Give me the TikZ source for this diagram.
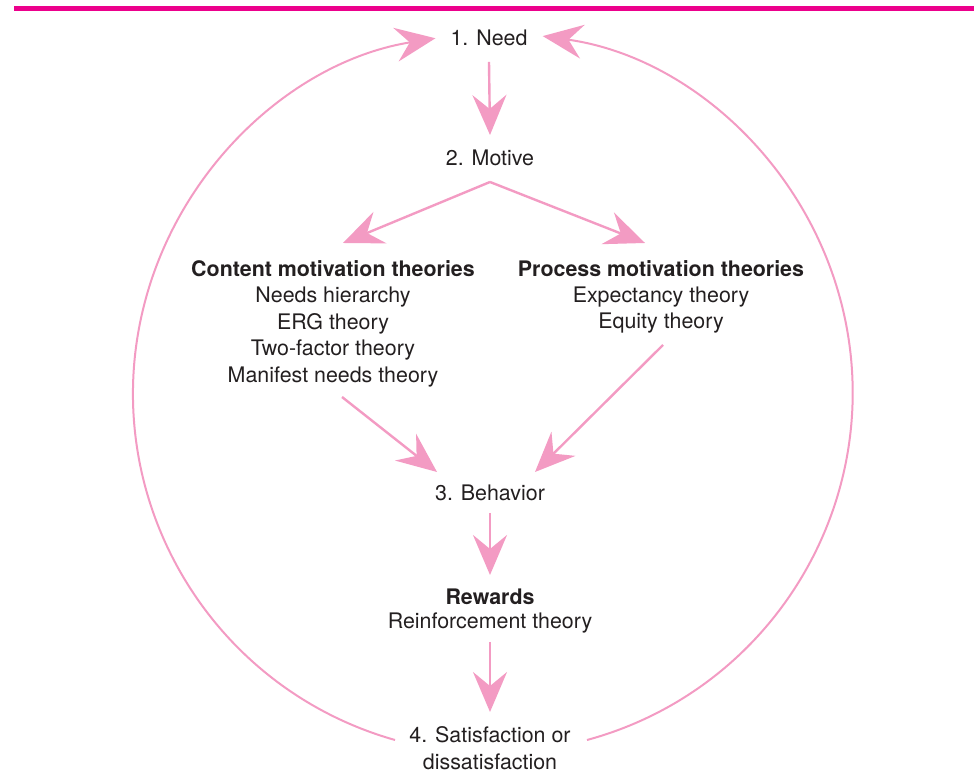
\documentclass[tikz,border=0pt]{standalone}
\usepackage{fontspec}
\setmainfont{TeX Gyre Heros}
\usetikzlibrary{arrows.meta,calc}
\definecolor{flowpink}{RGB}{243,155,195}
\definecolor{barpink}{RGB}{236,0,140}
\definecolor{ink}{RGB}{35,31,32}
\tikzset{
  lbl/.style={inner sep=0pt, font=\fontsize{21.4}{26.7}\selectfont, align=center, text=ink},
  hdr/.style={lbl, font=\fontsize{21.4}{26.7}\selectfont\bfseries},
  arr/.style={draw=flowpink, line width=2.4pt, -{Stealth[length=40pt,width=34pt,inset=14pt]}},
  ring/.style={draw=flowpink, line width=2pt, -{Stealth[length=40pt,width=34pt,inset=14pt]}}
}
\begin{document}
\begin{tikzpicture}[x=1pt,y=1pt]
  \useasboundingbox (0,0) rectangle (974,778);
  % rule along the top
  \draw[barpink, line width=5pt] (14,769) -- (974,769);

  % nodes
  \node[lbl] (need) at (489,740) {1. Need};
  \node[lbl] (motive) at (490,620) {2. Motive};
  \node[hdr] (ctitle) at (333,509) {Content motivation theories};
  \node[lbl] (clist) at (333,441) {Needs hierarchy\\ERG theory\\Two-factor theory\\Manifest needs theory};
  \node[hdr] (ptitle) at (661,509) {Process motivation theories};
  \node[lbl] (plist) at (661,468) {Expectancy theory\\Equity theory};
  \node[lbl] (behavior) at (490,285) {3. Behavior};
  \node[hdr] (rewards) at (490,181) {Rewards};
  \node[lbl] (reinf) at (490,155) {Reinforcement theory};
  \node[lbl] (sat) at (490,30) {4. Satisfaction or\\dissatisfaction};

  % straight connectors
  \draw[arr] ($(need)+(0,-24)$) -- ($(motive)+(0,23)$);
  \draw[arr] ($(motive)+(0,-24)$) -- ($(ctitle)+(10,26)$);
  \draw[arr] ($(motive)+(0,-24)$) -- ($(ptitle)+(-16,26)$);
  \draw[arr] ($(clist)+(9,-60)$) -- ($(behavior)+(-53,21)$);
  \draw[arr] ($(plist)+(2,-35)$) -- ($(behavior)+(45,21)$);
  \draw[arr] ($(behavior)+(0,-20)$) -- ($(rewards)+(0,22)$);
  \draw[arr] ($(reinf)+(0,-19)$) -- ($(sat)+(0,36)$);

  % feedback loop back to the need
  \coordinate (satL) at ($(sat)+(-95,8)$);
  \coordinate (satR) at ($(sat)+(97,8)$);
  \draw[ring] (satL) arc[start angle=254.2, end angle=99.2, radius=360];
  \draw[ring] (satR) arc[start angle=-74.8, end angle=82, radius=360];
\end{tikzpicture}
\end{document}
